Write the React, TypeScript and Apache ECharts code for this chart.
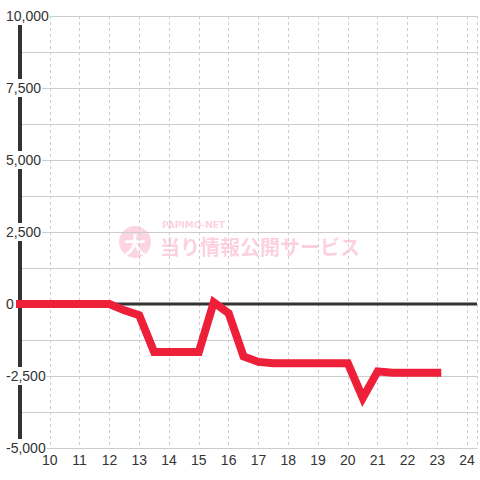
import React, { useEffect, useRef } from "react";
import * as echarts from "echarts";

const hours = [9, 9.5, 10, 10.5, 11, 11.5, 12, 12.5, 13, 13.5, 14, 14.5, 15, 15.5, 16, 16.5, 17, 17.5, 18, 18.5, 19, 19.5, 20, 20.5, 21, 21.5, 22, 22.5, 23];
const balance = [0, 0, 0, 0, 0, 0, 0, -220, -390, -1670, -1670, -1670, -1670, 60, -320, -1820, -2010, -2060, -2060, -2060, -2060, -2060, -2060, -3260, -2340, -2390, -2390, -2390, -2390];
const xTickLabels = ["10", "11", "12", "13", "14", "15", "16", "17", "18", "19", "20", "21", "22", "23", "24"];
const zeroLine = [[9, 0], [24 + 1 / 3, 0]];
const watermarkSmall = "PAPIMO-NET";
const watermarkBig = "当り情報公開サービス";

export default function App() {
  const ref = useRef<HTMLDivElement>(null);
  useEffect(() => {
    if (!ref.current) return;
    const chart = echarts.init(ref.current, undefined, { renderer: "svg" });
    const font = "'Liberation Sans', Arial, sans-serif";
    chart.setOption({
      animation: false,
      backgroundColor: "#ffffff",
      grid: { left: 20, right: 0, top: 16, bottom: 32, containLabel: false },
      xAxis: {
        type: "value",
        min: 9,
        max: 24 + 1 / 3,
        interval: 1,
        axisLine: { show: true, onZero: false, lineStyle: { color: "#cccccc", width: 1 } },
        axisTick: { show: false },
        axisLabel: {
          color: "#333333",
          fontSize: 14,
          fontFamily: font,
          margin: 5,
          showMinLabel: false,
          formatter: (v: number) => {
            const s = String(Math.round(v));
            return Number.isInteger(v) && xTickLabels.includes(s) ? s : "";
          },
        },
        splitLine: { show: true, lineStyle: { color: "#cccccc", width: 1, type: [3, 3] } },
      },
      yAxis: {
        type: "value",
        min: -5000,
        max: 10000,
        interval: 2500,
        axisLine: { show: true, lineStyle: { color: "#333333", width: 4 } },
        axisTick: { show: false },
        axisLabel: {
          color: "#333333",
          fontSize: 14,
          fontFamily: font,
          margin: 14,
          align: "left",
          backgroundColor: "#ffffff",
          padding: [2, 1, 2, 0],
          formatter: (v: number) => v.toLocaleString("en-US"),
        },
        splitLine: { show: true, lineStyle: { color: "#cccccc", width: 1 } },
        minorTick: { show: false, splitNumber: 2 },
        minorSplitLine: { show: true, lineStyle: { color: "#cccccc", width: 1 } },
      },
      graphic: [
        {
          type: "group",
          left: 119,
          top: 220,
          z: 1,
          children: [
            {
              type: "circle",
              shape: { cx: 16, cy: 22, r: 16 },
              style: { fill: "rgba(250,120,170,0.32)" },
            },
            {
              type: "text",
              x: 16,
              y: 23,
              style: {
                text: "大",
                fill: "rgba(255,255,255,0.95)",
                font: "bold 22px 'Noto Sans CJK JP'",
                align: "center",
                verticalAlign: "middle",
              },
            },
            {
              type: "text",
              x: 43,
              y: 0,
              style: {
                text: watermarkSmall,
                fill: "rgba(250,120,170,0.35)",
                font: "bold 9px 'DejaVu Sans'",
                align: "left",
                verticalAlign: "top",
              },
            },
            {
              type: "text",
              x: 41,
              y: 26,
              style: {
                text: watermarkBig,
                fill: "rgba(250,120,170,0.35)",
                font: "bold 20px 'Noto Sans CJK JP'",
                align: "left",
                verticalAlign: "middle",
              },
            },
          ],
        },
      ],
      series: [
        {
          type: "line",
          data: zeroLine,
          symbol: "none",
          silent: true,
          z: 1,
          lineStyle: { color: "#333333", width: 3 },
        },
        {
          type: "line",
          data: hours.map((h, i) => [h, balance[i]]),
          symbol: "none",
          z: 3,
          lineStyle: { color: "#ee1f38", width: 8, cap: "square", join: "miter" },
        },
      ],
    });
    return () => chart.dispose();
  }, []);
  return <div ref={ref} style={{ width: 480, height: 480, position: "absolute", left: 0, top: 0 }} />;
}
